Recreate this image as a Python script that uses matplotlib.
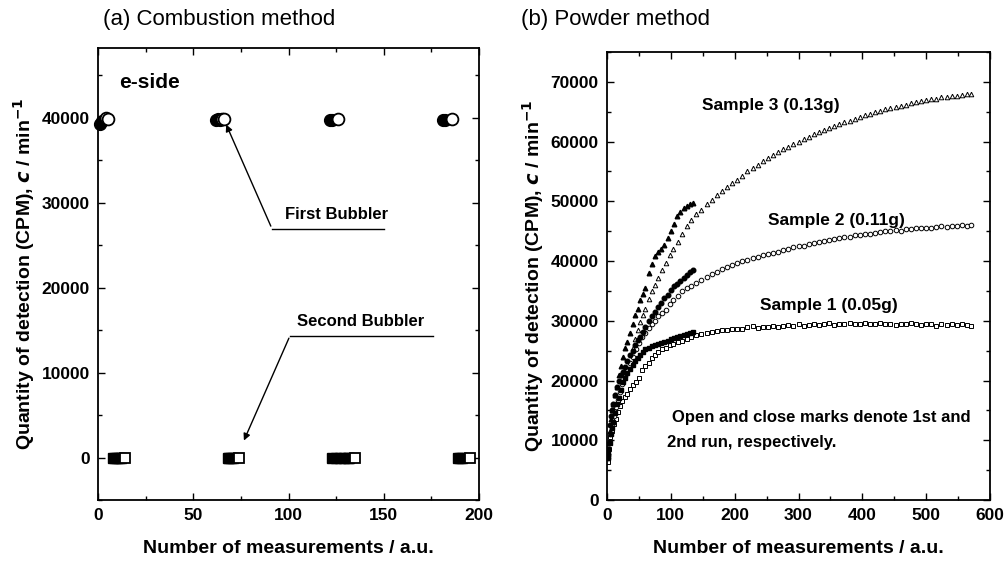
import matplotlib
matplotlib.use("Agg")
import matplotlib.pyplot as plt
from matplotlib.ticker import MultipleLocator
from matplotlib import font_manager

plt.rcParams['font.family'] = ['Liberation Sans', 'DejaVu Sans']
plt.rcParams['font.weight'] = 'bold'

# ---- (a) combustion method: e-side bubblers ----
first_closed_x = [1, 2, 62, 63, 64, 122, 123, 181, 182]
first_closed_y = [39300, 39600, 39700, 39800, 39700, 39700, 39700, 39700, 39700]
first_open_x = [4, 5, 65, 66, 126, 186]
first_open_y = [40000, 39900, 39800, 39800, 39800, 39800]
second_closed_x = [8, 9, 10, 11, 12, 68, 69, 70, 71, 123, 125, 127, 129, 131, 132, 189, 190, 191]
second_closed_y = [0] * len(second_closed_x)
second_open_x = [14, 74, 135, 195]
second_open_y = [0, 0, 0, 0]

# ---- (b) powder method ----
x_open = [1, 3, 5, 8, 11, 14, 17, 20, 24, 28, 32, 36, 40, 45, 50, 55, 60, 65, 70, 75,
          80, 86, 92, 98, 104, 111, 118, 125, 132,
          140, 148, 156, 164, 172, 180, 188, 196, 204, 212, 220, 228, 236, 244, 252, 260,
          268, 276, 284, 292, 300, 308, 316, 324, 332, 340, 348, 356, 364, 372, 380, 388,
          396, 404, 412, 420, 428, 436, 444, 452, 460, 468, 476, 484, 492, 500, 508, 516,
          524, 532, 540, 548, 556, 564, 570]
s1_open = [6300, 8500, 10500, 11500, 12800, 13500, 14700, 15800, 16500, 17200,
           17800, 18600, 19200, 19800, 20500, 21800, 22400, 23000, 23800, 24300,
           24800, 25200, 25500, 25900, 26100, 26400, 26700, 27000, 27300,
           27600, 27800, 28000, 28100, 28300, 28400, 28500, 28600, 28700, 28700, 28900,
           29100, 28800, 28900, 29000, 29200, 29000, 29100, 29300, 29200, 29400, 29200,
           29300, 29500, 29300, 29400, 29600, 29300, 29500, 29400, 29600, 29500, 29400,
           29700, 29500, 29400, 29600, 29400, 29500, 29300, 29500, 29400, 29600, 29400,
           29300, 29500, 29400, 29200, 29400, 29300, 29500, 29300, 29400, 29300, 29200]
s2_open = [7000, 9500, 11000, 12500, 14000, 15500, 16800, 18000, 19500, 20800,
           22000, 23000, 24000, 25200, 26300, 27300, 28000, 28800, 29500, 30000,
           30800, 31300, 31800, 32800, 33400, 34200, 35000, 35500, 35900,
           36300, 36800, 37300, 37800, 38200, 38700, 39000, 39400, 39700, 40000, 40200,
           40500, 40700, 41000, 41200, 41400, 41600, 41800, 42000, 42300, 42500, 42600,
           42900, 43000, 43200, 43300, 43500, 43700, 43800, 44000, 44100, 44300, 44400,
           44500, 44600, 44700, 44900, 45000, 45000, 45200, 45100, 45300, 45400, 45500,
           45500, 45600, 45600, 45700, 45800, 45700, 45900, 45800, 46000, 45900, 46000]
x_open3 = [40, 44, 48, 52, 56, 60, 65, 70, 75, 80, 86, 92, 98, 104, 111, 118, 125, 132,
           140, 148, 156, 164, 172, 180, 188, 196, 204, 212, 220, 228, 236, 244, 252, 260,
           268, 276, 284, 292, 300, 308, 316, 324, 332, 340, 348, 356, 364, 372, 380, 388,
           396, 404, 412, 420, 428, 436, 444, 452, 460, 468, 476, 484, 492, 500, 508, 516,
           524, 532, 540, 548, 556, 564, 570]
s3_open = [25500, 27000, 28500, 29800, 31000, 32000, 33600, 35000, 36000, 37200,
           38500, 39700, 41000, 42000, 43200, 44500, 45800, 46800,
           47800, 48600, 49500, 50300, 51000, 51700, 52400, 53000, 53600, 54200, 55000,
           55500, 56000, 56700, 57200, 57700, 58200, 58700, 59100, 59600, 60000, 60400,
           60800, 61200, 61600, 62000, 62300, 62600, 62900, 63200, 63500, 63800, 64100,
           64400, 64600, 64900, 65100, 65400, 65600, 65800, 66000, 66200, 66400, 66600,
           66800, 66900, 67100, 67200, 67400, 67500, 67600, 67700, 67800, 67900, 68000]
x_closed = [1, 2, 4, 6, 8, 10, 13, 16, 19, 22, 25, 28, 32, 36, 40, 44, 48, 52, 56, 60,
            65, 70, 75, 80, 85, 90, 95, 100, 105, 110, 115, 120, 125, 130, 135]
s1_closed = [7000, 8000, 9500, 11000, 12000, 13000, 14500, 16000, 17000, 18500,
             19800, 20500, 21300, 22000, 22600, 23200, 23800, 24300, 24800, 25200,
             25500, 25700, 25900, 26100, 26300, 26500, 26700, 26900, 27100, 27300,
             27500, 27700, 27800, 28000, 28100]
s2_closed = [7500, 8500, 12500, 14000, 15000, 16000, 17500, 19000, 20000, 21000,
             21500, 22200, 23200, 24200, 25000, 26000, 26800, 27300, 28200, 29000,
             30000, 30800, 31500, 32300, 33000, 33800, 34300, 35200, 35800, 36200,
             36700, 37200, 37700, 38100, 38500]
s3_closed = [8000, 9500, 11500, 13500, 15000, 16000, 17500, 19000, 21000, 22500,
             24000, 25500, 26500, 28000, 29500, 31000, 32000, 33500, 34500, 35500,
             38000, 39500, 40800, 41500, 42000, 42700, 43800, 45000, 46200, 47500,
             48200, 48800, 49200, 49500, 49800]

fig = plt.figure(figsize=(10.07, 5.65), dpi=100)
axa = fig.add_axes([0.0973, 0.115, 0.3784, 0.8])
axb = fig.add_axes([0.6028, 0.115, 0.3803, 0.793])

ylab = r'Quantity of detection (CPM), $\mathbfit{c}$ / min$^{\mathbf{-1}}$'
xlab = 'Number of measurements / a.u.'


def style(ax):
    ax.tick_params(which='both', direction='in', top=True, right=True,
                   labelsize=12.5, width=1.0, pad=6)
    ax.tick_params(which='major', length=5)
    ax.tick_params(which='minor', length=3)
    for s in ax.spines.values():
        s.set_linewidth(1.3)
    for lab in ax.get_xticklabels() + ax.get_yticklabels():
        lab.set_fontweight('bold')
    ax.set_xlabel(xlab, fontsize=14, fontweight='bold', labelpad=12)
    ax.set_ylabel(ylab, fontsize=14, fontweight='bold', labelpad=3)


# (a)
axa.plot(first_closed_x, first_closed_y, 'o', ms=8.5, mfc='black', mec='black', ls='none', clip_on=False)
axa.plot(first_open_x, first_open_y, 'o', ms=8.5, mfc='white', mec='black', mew=1.3, ls='none', clip_on=False)
axa.plot(second_closed_x, second_closed_y, 's', ms=7.5, mfc='black', mec='black', ls='none', clip_on=False)
axa.plot(second_open_x, second_open_y, 's', ms=7.5, mfc='white', mec='black', mew=1.3, ls='none', clip_on=False)
axa.set_xlim(0, 200)
axa.set_ylim(-5000, 48200)
axa.xaxis.set_major_locator(MultipleLocator(50))
axa.xaxis.set_minor_locator(MultipleLocator(25))
axa.yaxis.set_major_locator(MultipleLocator(10000))
axa.yaxis.set_minor_locator(MultipleLocator(5000))
style(axa)
axa.text(11, 44100, 'e-side', fontsize=15, fontweight='bold', va='center')

axa.plot([91.3, 150], [26940, 26940], color='black', lw=1)
axa.annotate('', xy=(66.7, 39500), xytext=(91.3, 26940),
             arrowprops=dict(arrowstyle='-|>', color='black', lw=1, mutation_scale=10))
axa.text(98, 28600, 'First Bubbler', fontsize=12, fontweight='bold', va='center')
axa.plot([100.8, 176], [14350, 14350], color='black', lw=1)
axa.annotate('', xy=(76, 1700), xytext=(100.8, 14350),
             arrowprops=dict(arrowstyle='-|>', color='black', lw=1, mutation_scale=10))
axa.text(104.5, 16000, 'Second Bubbler', fontsize=12, fontweight='bold', va='center')

# (b)
ms = 3.3
axb.plot(x_open, s1_open, 's', ms=ms, mfc='white', mec='black', mew=0.7, ls='none')
axb.plot(x_open, s2_open, 'o', ms=ms, mfc='white', mec='black', mew=0.7, ls='none')
axb.plot(x_open3, s3_open, '^', ms=ms, mfc='white', mec='black', mew=0.7, ls='none')
axb.plot(x_closed, s1_closed, 's', ms=ms, mfc='black', mec='black', ls='none')
axb.plot(x_closed, s2_closed, 'o', ms=ms, mfc='black', mec='black', ls='none')
axb.plot(x_closed, s3_closed, '^', ms=ms, mfc='black', mec='black', ls='none')
axb.set_xlim(0, 600)
axb.set_ylim(0, 75000)
axb.xaxis.set_major_locator(MultipleLocator(100))
axb.xaxis.set_minor_locator(MultipleLocator(50))
axb.yaxis.set_major_locator(MultipleLocator(10000))
axb.yaxis.set_minor_locator(MultipleLocator(5000))
style(axb)
axb.text(257, 66000, 'Sample 3 (0.13g)', fontsize=12.5, fontweight='bold', ha='center', va='center')
axb.text(360, 46800, 'Sample 2 (0.11g)', fontsize=12.5, fontweight='bold', ha='center', va='center')
axb.text(347, 32500, 'Sample 1 (0.05g)', fontsize=12.5, fontweight='bold', ha='center', va='center')
axb.text(102, 13800, 'Open and close marks denote 1st and', fontsize=12, fontweight='bold', va='center')
axb.text(94, 9700, '2nd run, respectively.', fontsize=12, fontweight='bold', va='center')

names = {f.name for f in font_manager.fontManager.ttflist}
tfam = ['Liberation Sans Narrow', 'Liberation Sans'] if 'Liberation Sans Narrow' in names else ['Liberation Sans']
fig.text(0.2175, 0.965, '(a) Combustion method', fontsize=16, family=tfam,
         fontweight='normal', ha='center', va='center')
fig.text(0.611, 0.965, '(b) Powder method', fontsize=16, family=tfam,
         fontweight='normal', ha='center', va='center')

fig.savefig('out.png', dpi=100)
